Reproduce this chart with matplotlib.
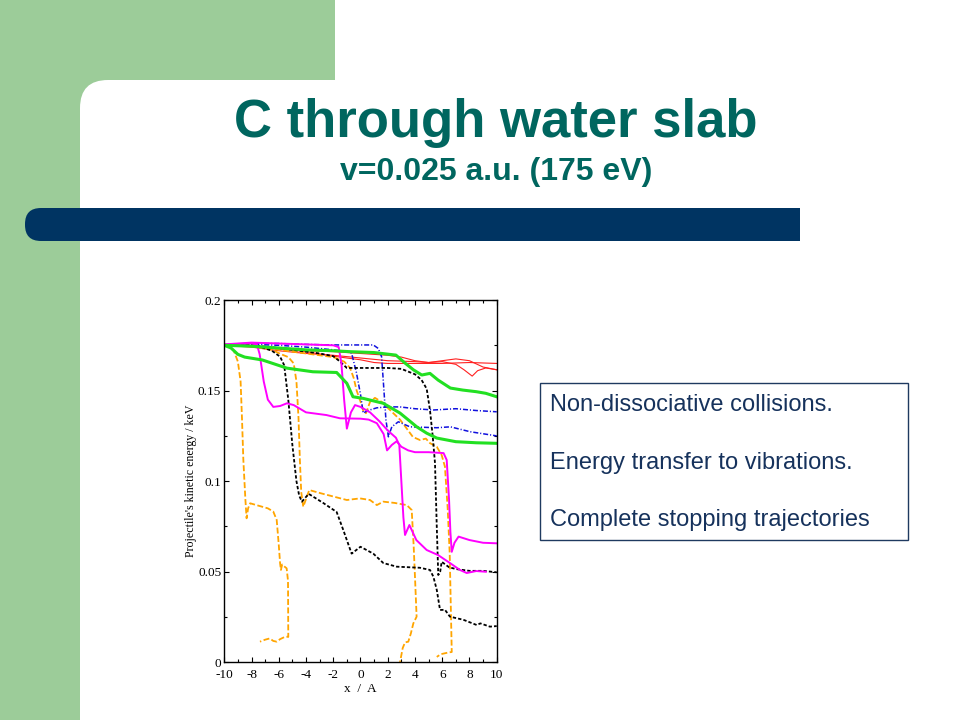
import matplotlib
matplotlib.use("Agg")
import matplotlib.pyplot as plt
from matplotlib.patches import Rectangle, FancyBboxPatch

# slide texts
title = "C through water slab"
subtitle = "v=0.025 a.u. (175 eV)"
notes = ["Non-dissociative collisions.",
         "Energy transfer to vibrations.",
         "Complete stopping trajectories"]

# axis ticks
x_ticks = [-10, -8, -6, -4, -2, 0, 2, 4, 6, 8, 10]
y_ticks = [0, 0.05, 0.1, 0.15, 0.2]
y_tick_labels = ["0", "0.05", "0.1", "0.15", "0.2"]

# red thin trajectories
red1_x = [-10, -8, -6, -4, -2, 0, 1, 2, 4, 6, 8, 10]
red1_y = [0.175, 0.1745, 0.173, 0.1715, 0.169, 0.167, 0.1655, 0.165, 0.165, 0.165, 0.1655, 0.165]
red2_x = [-10, -8, -6, -4, -2, 0, 1, 2, 3, 4, 5, 6, 7, 8, 9, 10]
red2_y = [0.175, 0.1745, 0.173, 0.172, 0.1715, 0.1705, 0.170, 0.1695, 0.1685, 0.1665, 0.1655, 0.1665, 0.1675, 0.1665, 0.163, 0.1615]
red3_x = [-10, -8, -6, -4, -2, 0, 2, 4, 5, 6, 7, 7.6, 8.2, 8.6, 9.2, 10]
red3_y = [0.175, 0.174, 0.172, 0.1705, 0.1695, 0.168, 0.1665, 0.166, 0.1655, 0.166, 0.1645, 0.1615, 0.158, 0.161, 0.1625, 0.1615]

# green thick trajectories
green1_x = [-10, -8, -6, -4, -2, -0.8, 1, 2.6, 3.3, 3.9, 4.5, 5.1, 5.7, 6.6, 7.5, 8.5, 9.2, 10]
green1_y = [0.175, 0.1745, 0.1735, 0.1725, 0.172, 0.1715, 0.171, 0.1696, 0.165, 0.1614, 0.1586, 0.1595, 0.1558, 0.1514, 0.1503, 0.1494, 0.1485, 0.1466]
green2_x = [-10, -9.5, -9, -8.5, -7.2, -5.4, -3.5, -1.75, -1.0, -0.55, 0.2, 1.67, 2.9, 4.13, 4.86, 5.6, 7.0, 8.5, 10]
green2_y = [0.175, 0.1735, 0.170, 0.1685, 0.1669, 0.1624, 0.1604, 0.160, 0.154, 0.1466, 0.1457, 0.143, 0.1376, 0.130, 0.1265, 0.1238, 0.1218, 0.1212, 0.1209]

# blue dash-dot trajectories
blue1_x = [-10, -8, -6, -4, -2, -0.77, 0.94, 1.3, 1.55, 1.67, 1.87, 2.05, 2.3, 2.78, 3.63, 5.6, 6.6, 8.05, 10]
blue1_y = [0.175, 0.176, 0.176, 0.1755, 0.1752, 0.1752, 0.1752, 0.1733, 0.1687, 0.1558, 0.1337, 0.1245, 0.130, 0.1328, 0.130, 0.1295, 0.130, 0.1273, 0.125]
blue2_x = [-10, -8, -6, -4, -2, -1.0, -0.65, -0.3, 0.0, 0.2, 0.55, 1.2, 2.0, 2.9, 4, 5.36, 7, 8.5, 10]
blue2_y = [0.175, 0.1755, 0.175, 0.174, 0.1725, 0.1715, 0.1706, 0.160, 0.148, 0.1376, 0.139, 0.1405, 0.141, 0.141, 0.140, 0.1393, 0.140, 0.139, 0.1383]

# black dashed trajectories
black1_x = [-10, -8.5, -7.5, -6.5, -5.9, -5.6, -5.3, -5.0, -4.7, -4.5, -4.3, -3.8, -2.7, -1.75, -1.26, -0.65, 0, 0.94, 1.68,
            2.66, 4.37, 5.1, 5.35, 5.6, 5.84, 6.2, 6.57, 7.55, 8.53, 8.8, 9.5, 10]
black1_y = [0.175, 0.1755, 0.1745, 0.172, 0.1687, 0.164, 0.145, 0.120, 0.100, 0.092, 0.0887, 0.093, 0.0878, 0.083, 0.073, 0.060, 0.0638, 0.060, 0.0548,
            0.0528, 0.0522, 0.051, 0.0473, 0.040, 0.0289, 0.029, 0.0252, 0.0235, 0.0206, 0.0215, 0.0197, 0.020]
black2_x = [-10, -8, -6, -5, -4, -3, -2, -1.5, -1.0, 0, 1, 2, 3, 4, 4.49, 4.86, 5.1, 5.3, 5.47, 5.6, 5.71, 5.85, 5.96, 6.5, 7, 8, 9, 10]
black2_y = [0.175, 0.175, 0.1735, 0.1725, 0.1715, 0.1705, 0.169, 0.166, 0.1625, 0.1625, 0.1625, 0.1625, 0.162, 0.159, 0.1558, 0.151, 0.1393, 0.125, 0.110, 0.075, 0.0482, 0.050, 0.0555, 0.0525, 0.0515, 0.0505, 0.0505, 0.0497]

# magenta trajectories
mag1_x = [-10, -8, -7.6, -7.4, -7.1, -6.8, -6.4, -5.9, -5.4, -4.9, -4.0, -2.5, -1.5, 0, 0.6, 1.2, 1.7, 1.95, 2.3, 2.65, 3.0, 3.5, 4, 5,
          6.1, 6.33, 6.5, 6.6, 6.7, 6.9, 7.2, 8, 9, 10]
mag1_y = [0.1755, 0.176, 0.1755, 0.170, 0.155, 0.145, 0.141, 0.1415, 0.143, 0.142, 0.138, 0.1365, 0.1347, 0.1345, 0.134, 0.132, 0.126, 0.117, 0.120, 0.122, 0.119, 0.117, 0.116, 0.116,
          0.1155, 0.1117, 0.090, 0.072, 0.061, 0.066, 0.0694, 0.0675, 0.066, 0.0657]
mag2_x = [-10, -8, -6, -4, -2, -1.6, -1.4, -1.2, -1.0, -0.7, -0.4, 0, 0.7, 1.4, 2.0, 2.6, 2.85, 3.0, 3.15, 3.27, 3.59, 4.1, 4.86, 5.7,
          6.57, 7.3, 7.8, 8.5, 9.2]
mag2_y = [0.1755, 0.1765, 0.176, 0.1755, 0.175, 0.174, 0.165, 0.145, 0.129, 0.138, 0.142, 0.141, 0.138, 0.133, 0.128, 0.124, 0.120, 0.100, 0.080, 0.0703, 0.0758, 0.0675, 0.062, 0.0592,
          0.0548, 0.051, 0.0493, 0.0504, 0.050]

# orange long-dashed trajectories (the last points go back in x)
orange1_x = [-10, -9.6, -9.3, -9.0, -8.8, -8.7, -8.6, -8.45, -8.36, -8.25, -8.1, -7.5, -6.8, -6.4, -6.15, -6.0, -5.9, -5.84, -5.75, -5.6,
             -5.42, -5.32, -5.3, -5.35, -5.54, -5.9, -6.15, -6.4, -6.66, -7.0, -7.38]
orange1_y = [0.175, 0.1745, 0.172, 0.166, 0.155, 0.135, 0.112, 0.090, 0.0795, 0.085, 0.0878, 0.0865, 0.085, 0.0832, 0.0786, 0.065, 0.0546, 0.051, 0.054, 0.053,
             0.0519, 0.045, 0.014, 0.0141, 0.0141, 0.0128, 0.0114, 0.0118, 0.0132, 0.0125, 0.0114]
orange2_x = [-10, -8, -6.5, -5.8, -5.3, -4.9, -4.7, -4.55, -4.45, -4.35, -4.2, -3.76, -2.9, -1.0, -0.04, 0.7, 1.2, 1.67, 2.5, 3.4, 3.76,
             3.9, 4.0, 4.12, 3.88, 3.7, 3.51, 3.27, 3.1, 2.9]
orange2_y = [0.175, 0.1745, 0.1725, 0.170, 0.1685, 0.165, 0.155, 0.135, 0.112, 0.094, 0.0859, 0.0951, 0.0933, 0.0896, 0.0905, 0.0896, 0.0868, 0.0887, 0.088, 0.0868, 0.0841,
             0.065, 0.0473, 0.0252, 0.0215, 0.016, 0.0114, 0.011, 0.0079, 0.0]
orange3_x = [-10, -8, -6, -4, -2, -1.2, -0.77, -0.5, -0.28, 0.0, 0.2, 0.4, 0.7, 1.06, 1.55, 2.4, 2.9, 3.3, 3.85, 4.37, 4.8, 5.1, 5.6,
             5.96, 6.2, 6.4, 6.55, 6.7, 6.5, 6.2, 5.9, 5.6]
orange3_y = [0.175, 0.1745, 0.1725, 0.1705, 0.1685, 0.166, 0.1626, 0.157, 0.150, 0.144, 0.139, 0.1375, 0.1437, 0.146, 0.1438, 0.1376, 0.134, 0.130, 0.1244, 0.1227, 0.1235, 0.121, 0.119,
             0.1144, 0.108, 0.085, 0.060, 0.0057, 0.0055, 0.005, 0.0045, 0.003]

plt.rcParams['lines.scale_dashes'] = False
plt.rcParams['axes.unicode_minus'] = False

fig = plt.figure(figsize=(9.6, 7.2), dpi=100)

# slide background drawn in pixel coordinates
bg = fig.add_axes([0, 0, 1, 1], zorder=0)
bg.set_xlim(0, 960)
bg.set_ylim(720, 0)
bg.axis('off')
green = '#9ccc99'
bg.add_patch(Rectangle((0, 0), 335, 110, color=green, lw=0))
bg.add_patch(Rectangle((0, 0), 80, 720, color=green, lw=0))
bg.add_patch(FancyBboxPatch((80, 80), 960, 700, boxstyle="round,pad=0,rounding_size=28",
                            color='white', lw=0))
navy = '#003462'
bg.add_patch(FancyBboxPatch((25, 208), 60, 33, boxstyle="round,pad=0,rounding_size=16",
                            color=navy, lw=0))
bg.add_patch(Rectangle((55, 208), 745, 33, color=navy, lw=0))

teal = '#00665f'
bg.text(496, 123, title, ha='center', va='center', fontsize=38, fontweight='bold',
        color=teal, family='Liberation Sans')
bg.text(496, 172, subtitle, ha='center', va='center', fontsize=23, fontweight='bold',
        color=teal, family='Liberation Sans')

# text box on the right
text_color = '#16325c'
bg.add_patch(Rectangle((540, 383), 368, 157, fill=False, ec='#1f3a60', lw=1))
for i, line in enumerate(notes):
    bg.text(550, 405 + i * 57.5, line, ha='left', va='center', fontsize=17,
            color=text_color, family='Liberation Sans')

# the plot itself
ax = fig.add_axes([0.2336, 0.0801, 0.2838, 0.5032], zorder=1)
ax.set_facecolor('white')

for xs, ys in [(red1_x, red1_y), (red2_x, red2_y), (red3_x, red3_y)]:
    ax.plot(xs, ys, color='#ff2020', lw=0.8)
for xs, ys in [(orange1_x, orange1_y), (orange2_x, orange2_y), (orange3_x, orange3_y)]:
    ax.plot(xs, ys, color='#ffa500', lw=1.3, dashes=(4.3, 1.8))
for xs, ys in [(blue1_x, blue1_y), (blue2_x, blue2_y)]:
    ax.plot(xs, ys, color='#1010dd', lw=1.1, dashes=(3.6, 1.4, 0.8, 1.4))
for xs, ys in [(black1_x, black1_y), (black2_x, black2_y)]:
    ax.plot(xs, ys, color='black', lw=1.3, dashes=(2.4, 1.5))
for xs, ys in [(mag1_x, mag1_y), (mag2_x, mag2_y)]:
    ax.plot(xs, ys, color='#ff00ff', lw=1.4)
for xs, ys in [(green1_x, green1_y), (green2_x, green2_y)]:
    ax.plot(xs, ys, color='#22e022', lw=2.2)

ax.set_xlim(-10, 10)
ax.set_ylim(0, 0.2)
ax.set_xticks(x_ticks)
ax.set_xticks(range(-10, 11), minor=True)
ax.set_yticks(y_ticks)
ax.set_yticklabels(y_tick_labels)
ax.set_yticks([i * 0.025 for i in range(9)], minor=True)
ax.tick_params(which='both', direction='in', top=True, right=True, width=0.8)
ax.tick_params(which='major', length=3.6)
ax.tick_params(which='minor', length=1.9)
ax.tick_params(axis='x', pad=4.5)
ax.tick_params(axis='y', pad=2.2)
for lab in ax.get_xticklabels() + ax.get_yticklabels():
    lab.set_family('Liberation Serif')
    lab.set_fontsize(9.5)
for sp in ax.spines.values():
    sp.set_linewidth(1.0)

ax.set_xlabel("x  /  A", family='Liberation Serif', fontsize=9.5, labelpad=2)
ax.set_ylabel("Projectile's kinetic energy / keV", family='Liberation Serif', fontsize=8.6, labelpad=1)

fig.savefig("out.png", dpi=100)
